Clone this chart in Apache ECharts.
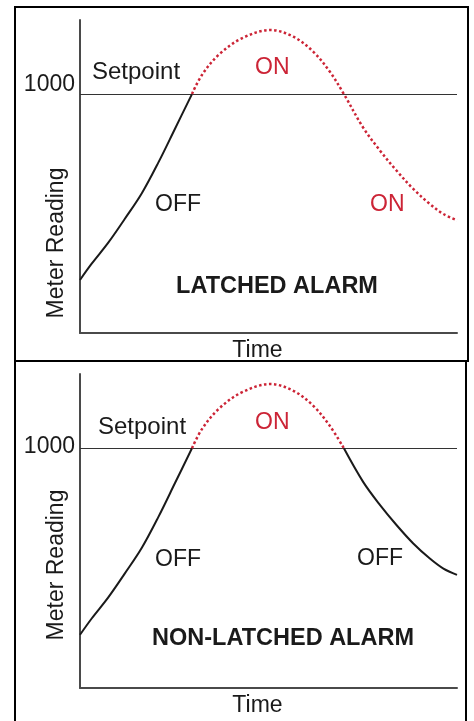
<!DOCTYPE html>
<html>
<head>
<meta charset="utf-8">
<script src="https://cdn.jsdelivr.net/npm/echarts@6/dist/echarts.min.js"></script>
<style>
  html, body { margin: 0; padding: 0; background: #fff; }
  #chart { width: 474px; height: 721px; }
</style>
</head>
<body>
<div id="chart"></div>
<script>
// Meter reading over time, sampled along the process curve
const timeSteps = [0, 3.1, 7.5, 11.9, 16.4, 20.8, 25.2, 29.7, 32.3, 36.7, 42.9, 50.5, 56.6, 61.9, 66.3, 70.0, 75.1, 79.6, 84.0, 88.4, 92.8, 96.4, 100];
const meterReading = [222, 290, 378, 478, 585, 714, 855, 1000, 1079, 1163, 1233, 1268, 1240, 1177, 1093, 1000, 860, 763, 679, 603, 540, 498, 472];
const setpoint = 1000;
const alarmModes = ['latched', 'non-latched'];
const panelTitles = ['LATCHED ALARM', 'NON-LATCHED ALARM'];
const stateText = { on: 'ON', off: 'OFF' };

const FONT = '"Liberation Sans", Arial, sans-serif';
const RED = '#cc2436';
const INK = '#1a1a1a';

// Split the curve into runs where the alarm output is on or off.
function alarmSegments(mode) {
  const segs = [];
  let cur = null;
  let latchedOn = false;
  for (let i = 0; i < timeSteps.length - 1; i++) {
    const a = meterReading[i], b = meterReading[i + 1];
    let on;
    if (mode === 'latched') {
      if (a >= setpoint) latchedOn = true;
      on = latchedOn;
    } else {
      on = a >= setpoint && b >= setpoint;
    }
    if (!cur || cur.on !== on) {
      cur = { on: on, points: [[timeSteps[i], a]] };
      segs.push(cur);
    }
    cur.points.push([timeSteps[i + 1], b]);
  }
  return segs;
}

// Layout of the two stacked panels
const panels = [
  { top: 20, height: 313, labelLH: 18, namePad: 133, state2: 'on' },
  { top: 374, height: 314, labelLH: 4, namePad: 68, state2: 'off' }
];

const grids = [], xAxes = [], yAxes = [], series = [];

panels.forEach(function (p, k) {
  grids.push({ left: 80, right: 17, top: p.top, height: p.height, containLabel: false, outerBoundsMode: 'none' });
  xAxes.push({
    type: 'value', gridIndex: k, min: 0, max: 100,
    name: 'Time', nameLocation: 'middle', nameGap: 6, nameMoveOverlap: false,
    nameTextStyle: { fontFamily: FONT, fontSize: 23, color: INK, padding: [0, 22, 0, 0] },
    axisLine: { show: true, onZero: false, lineStyle: { color: '#4a4a4a', width: 2 } },
    axisTick: { show: false }, axisLabel: { show: false }, splitLine: { show: false }
  });
  yAxes.push({
    type: 'value', gridIndex: k, min: 0, max: 1310, interval: 1000,
    name: 'Meter Reading', nameLocation: 'middle', nameGap: 12, nameMoveOverlap: false,
    nameTextStyle: { fontFamily: FONT, fontSize: 23, color: INK, padding: [0, p.namePad, 0, 0] },
    axisLine: { show: true, onZero: false, lineStyle: { color: '#4a4a4a', width: 2 } },
    axisTick: { show: false },
    axisLabel: {
      show: true, margin: 5, fontFamily: FONT, fontSize: 23, color: INK,
      verticalAlign: 'bottom', lineHeight: p.labelLH,
      formatter: function (v) { return v === setpoint ? String(setpoint) : ''; }
    },
    splitLine: { show: false }
  });

  alarmSegments(alarmModes[k]).forEach(function (seg, j) {
    const s = {
      type: 'line', xAxisIndex: k, yAxisIndex: k,
      data: seg.points, smooth: 0.35, showSymbol: false, symbol: 'none',
      silent: true, z: 3,
      lineStyle: seg.on
        ? { color: RED, width: 2.5, type: 'dotted' }
        : { color: INK, width: 2, type: 'solid' }
    };
    if (j === 0) {
      s.markLine = {
        silent: true, symbol: ['none', 'none'], label: { show: false },
        lineStyle: { color: '#333', width: 1, type: 'solid' },
        data: [{ yAxis: setpoint }], z: 2
      };
    }
    series.push(s);
  });
});

function txt(text, x, y, opts) {
  opts = opts || {};
  return {
    type: 'text', x: x, y: y, silent: true, z: 10,
    style: {
      text: text, fill: opts.fill || INK,
      font: (opts.bold ? 'bold ' : '') + (opts.size || 23) + 'px ' + FONT,
      textAlign: opts.align || 'left', textVerticalAlign: 'middle',
      align: opts.align || 'left', verticalAlign: 'middle'
    }
  };
}

const graphics = [
  // frames
  { type: 'rect', shape: { x: 15, y: 7, width: 453, height: 354 }, style: { fill: 'none', stroke: '#000', lineWidth: 2 }, z: 20, silent: true },
  { type: 'rect', shape: { x: 15, y: 361, width: 451, height: 362 }, style: { fill: 'none', stroke: '#000', lineWidth: 2 }, z: 20, silent: true },
  // panel 1 annotations
  txt('Setpoint', 92, 72.5, { size: 24 }),
  txt(stateText.on, 255, 67.5, { fill: RED }),
  txt(stateText.off, 155, 205),
  txt(stateText[panels[0].state2], 370, 205, { fill: RED }),
  txt(panelTitles[0], 277, 287, { bold: true, align: 'center', size: 23.5 }),
  // panel 2 annotations
  txt('Setpoint', 98, 427, { size: 24 }),
  txt(stateText.on, 255, 422.5, { fill: RED }),
  txt(stateText.off, 155, 560),
  txt(stateText[panels[1].state2], 357, 559),
  txt(panelTitles[1], 283, 638.5, { bold: true, align: 'center', size: 23.5 })
];

const chart = echarts.init(document.getElementById('chart'), null, { renderer: 'canvas' });
chart.setOption({
  animation: false,
  backgroundColor: '#fff',
  grid: grids,
  xAxis: xAxes,
  yAxis: yAxes,
  series: series,
  graphic: graphics
});
</script>
</body>
</html>
